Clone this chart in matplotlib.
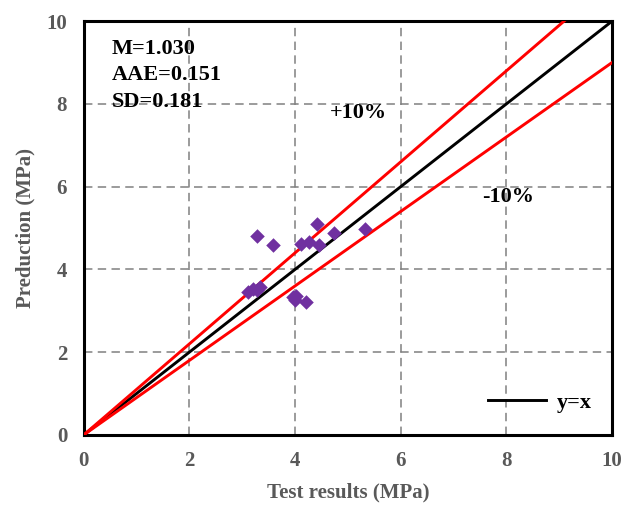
import matplotlib
matplotlib.use("Agg")
import matplotlib.pyplot as plt
import numpy as np

test_results = [3.27, 3.59, 4.42, 4.11, 4.27, 4.45, 4.74, 5.32, 3.11, 3.21, 3.27, 3.33, 3.96, 4.00, 4.20, 4.02]
predictions  = [4.80, 4.58, 5.10, 4.61, 4.66, 4.58, 4.87, 4.97, 3.46, 3.53, 3.50, 3.57, 3.34, 3.26, 3.22, 3.36]
ref_line = [0, 10]
upper_factor = 1.1
lower_factor = 0.9
stats_text = ["M=1.030", "AAE=0.151", "SD=0.181"]
ticks = [0, 2, 4, 6, 8, 10]

plt.rcParams['font.family'] = ['Liberation Serif', 'DejaVu Serif']
plt.rcParams['font.weight'] = 'bold'

fig = plt.figure(figsize=(6.21, 5.05), dpi=100)
ax = fig.add_axes([0.135, 0.139, 0.8505, 0.819])

ax.set_xlim(0, 10)
ax.set_ylim(0, 10)
ax.set_xticks(ticks)
ax.set_yticks(ticks)
ax.grid(True, linestyle=(0, (5.5, 3.5)), color='#808080', linewidth=1.1)
ax.set_axisbelow(True)

xs = np.array(ref_line, dtype=float)
ax.plot(xs, xs, color='black', linewidth=2.1, label='y=x', zorder=3)
ax.plot(xs, upper_factor * xs, color='#FF0000', linewidth=2.1, zorder=3)
ax.plot(xs, lower_factor * xs, color='#FF0000', linewidth=2.1, zorder=3)
ax.scatter(test_results, predictions, marker='D', s=55, color='#7030A0', zorder=4, linewidths=0)

for s in ax.spines.values():
    s.set_linewidth(2.2)
    s.set_color('black')

ax.tick_params(axis='both', length=0, pad=12, labelsize=15, labelcolor='#595959')
for lab in ax.get_xticklabels() + ax.get_yticklabels():
    lab.set_fontweight('bold')

ax.set_xlabel('Test results (MPa)', fontsize=15, fontweight='bold', color='#595959', labelpad=8)
ax.set_ylabel('Preduction (MPa)', fontsize=15, fontweight='bold', color='#595959', labelpad=8)

for i, t in enumerate(stats_text):
    ax.text(0.53, 9.33 - 0.64 * i, t, fontsize=16, fontweight='bold', color='black', va='center', ha='left')

ax.text(5.19, 7.78, '+10%', fontsize=16, fontweight='bold', ha='center', va='center')
ax.text(8.03, 5.75, '-10%', fontsize=16, fontweight='bold', ha='center', va='center')

leg = ax.legend(loc='lower right', frameon=False, fontsize=16, handlelength=2.6,
                handletextpad=0.5, bbox_to_anchor=(1.0, 0.005))
for t in leg.get_texts():
    t.set_fontweight('bold')

fig.savefig('out.png', dpi=100)
